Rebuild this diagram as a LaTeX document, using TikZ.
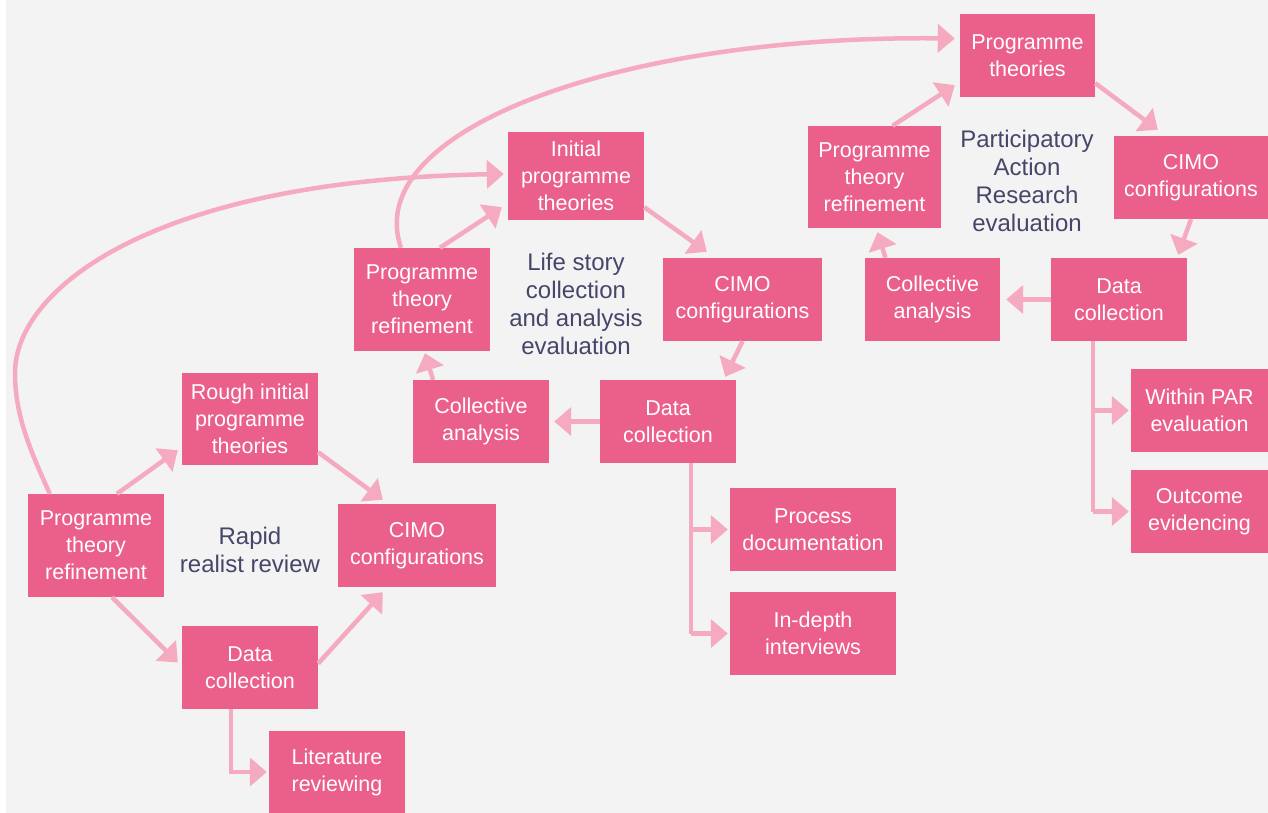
\documentclass[tikz,border=0pt]{standalone}
\usepackage{fontspec}
\setmainfont{Liberation Sans}
\usetikzlibrary{arrows.meta}
\definecolor{bg}{HTML}{F3F3F3}
\definecolor{boxc}{HTML}{EB5F8B}
\definecolor{arr}{HTML}{F5AAC0}
\definecolor{lab}{HTML}{45466A}
\begin{document}
\begin{tikzpicture}[x=1pt,y=-1pt,
 box/.style={fill=boxc,text=white,align=center,inner sep=0pt,font=\fontsize{21.5}{27}\selectfont},
 lbl/.style={text=lab,align=center,font=\fontsize{24}{28}\selectfont},
 con/.style={draw=arr,line width=4.5pt,-{Triangle[length=17pt,width=28pt]}},
 elb/.style={draw=arr,line width=4.5pt}]
\useasboundingbox (0,0) rectangle (1268,813);
\fill[white] (0,0) rectangle (1268,813);
\fill[bg] (6,0) rectangle (1268,813);

% right cluster
\node[box,minimum width=135pt,minimum height=83pt] (ptT) at (1027.5,55.5) {Programme\\theories};
\node[box,minimum width=154pt,minimum height=83pt] (cimoR) at (1191,177.5) {CIMO\\configurations};
\node[box,minimum width=136pt,minimum height=83pt] (dcR) at (1119,299.5) {Data\\collection};
\node[box,minimum width=135pt,minimum height=83pt] (caR) at (932.5,299.5) {Collective\\analysis};
\node[box,minimum width=133pt,minimum height=102pt] (ptrR) at (874.5,177) {Programme\\theory\\refinement};
\node[box,minimum width=137pt,minimum height=83pt] (within) at (1199.5,410.5) {Within PAR\\evaluation};
\node[box,minimum width=137pt,minimum height=83pt] (outcome) at (1199.5,511.5) {Outcome\\evidencing};
\node[lbl] (labR) at (1027,181) {Participatory\\Action\\Research\\evaluation};

% middle cluster
\node[box,minimum width=136pt,minimum height=88pt] (ipt) at (576,176) {Initial\\programme\\theories};
\node[box,minimum width=159pt,minimum height=83pt] (cimoM) at (742.5,299.5) {CIMO\\configurations};
\node[box,minimum width=136pt,minimum height=83pt] (dcM) at (668,421.5) {Data\\collection};
\node[box,minimum width=136pt,minimum height=83pt] (caM) at (481,421.5) {Collective\\analysis};
\node[box,minimum width=136pt,minimum height=103pt] (ptrM) at (422,299.5) {Programme\\theory\\refinement};
\node[box,minimum width=166pt,minimum height=83pt] (proc) at (813,529.5) {Process\\documentation};
\node[box,minimum width=166pt,minimum height=83pt] (indepth) at (813,633.5) {In-depth\\interviews};
\node[lbl] (labM) at (576,304) {Life story\\collection\\and analysis\\evaluation};

% left cluster
\node[box,minimum width=136pt,minimum height=92pt] (rough) at (250,419) {Rough initial\\programme\\theories};
\node[box,minimum width=158pt,minimum height=83pt] (cimoL) at (417,545.5) {CIMO\\configurations};
\node[box,minimum width=136pt,minimum height=83pt] (dcL) at (250,667.5) {Data\\collection};
\node[box,minimum width=136pt,minimum height=103pt] (ptrL) at (96,545.5) {Programme\\theory\\refinement};
\node[box,minimum width=136pt,minimum height=82pt] (lit) at (337,772) {Literature\\reviewing};
\node[lbl] (labL) at (250,550) {Rapid\\realist review};

% left connectors
\draw[con] ([xshift=21pt]ptrL.north) -- ([xshift=-4pt,yshift=15pt]rough.south west);
\draw[con] ([yshift=13pt]rough.south east) -- ([xshift=45pt,yshift=4pt]cimoL.north west);
\draw[con] ([xshift=16pt]ptrL.south) -- ([xshift=-4pt,yshift=5pt]dcL.west);
\draw[con] ([yshift=4pt]dcL.east) -- ([xshift=45pt,yshift=-5pt]cimoL.south west);
\draw[con] ([xshift=-19pt]dcL.south) |- ([xshift=-2pt]lit.west);
\coordinate (j1) at (15,373);
\draw[con] ([xshift=22pt]ptrL.north west) .. controls (30,450) and (15,415) .. (j1)
  .. controls (15,290) and (150,180) .. ([xshift=-4pt,yshift=2pt]ipt.west);

% middle connectors
\draw[con] ([xshift=18pt]ptrM.north) -- ([xshift=-6pt,yshift=13pt]ipt.south west);
\draw[con] ([yshift=13pt]ipt.south east) -- ([xshift=44pt,yshift=6pt]cimoM.north west);
\draw[con] (cimoM.south) -- ([xshift=-11pt,yshift=3pt]dcM.north east);
\draw[con] (dcM.west) -- ([xshift=5pt]caM.east);
\draw[con] ([xshift=-48pt]caM.north) -- ([xshift=3pt,yshift=-2pt]ptrM.south);
\draw[elb] ([xshift=23pt]dcM.south) -- ([xshift=23pt]dcM.south |- indepth.west);
\draw[con] ([xshift=23pt]dcM.south |- proc.west) -- ([xshift=-2pt]proc.west);
\draw[con] ([xshift=23pt]dcM.south |- indepth.west) -- ([xshift=-2pt]indepth.west);
\draw[con] ([xshift=-21pt]ptrM.north) .. controls (360,130) and (620,35) .. ([xshift=-5pt,yshift=17pt]ptT.west);

% right connectors
\draw[con] ([xshift=18pt]ptrR.north) -- ([xshift=-5pt,yshift=12pt]ptT.south west);
\draw[con] ([yshift=14pt]ptT.south east) -- ([xshift=44pt,yshift=6pt]cimoR.north west);
\draw[con] (cimoR.south) -- ([xshift=-9pt,yshift=3pt]dcR.north east);
\draw[con] (dcR.west) -- ([xshift=6pt]caR.east);
\draw[con] ([xshift=-47pt]caR.north) -- ([xshift=3pt,yshift=-4pt]ptrR.south);
\draw[elb] ([xshift=-26pt]dcR.south) -- ([xshift=-26pt]dcR.south |- outcome.west);
\draw[con] ([xshift=-26pt]dcR.south |- within.west) -- ([xshift=-2pt]within.west);
\draw[con] ([xshift=-26pt]dcR.south |- outcome.west) -- ([xshift=-2pt]outcome.west);
\end{tikzpicture}
\end{document}
